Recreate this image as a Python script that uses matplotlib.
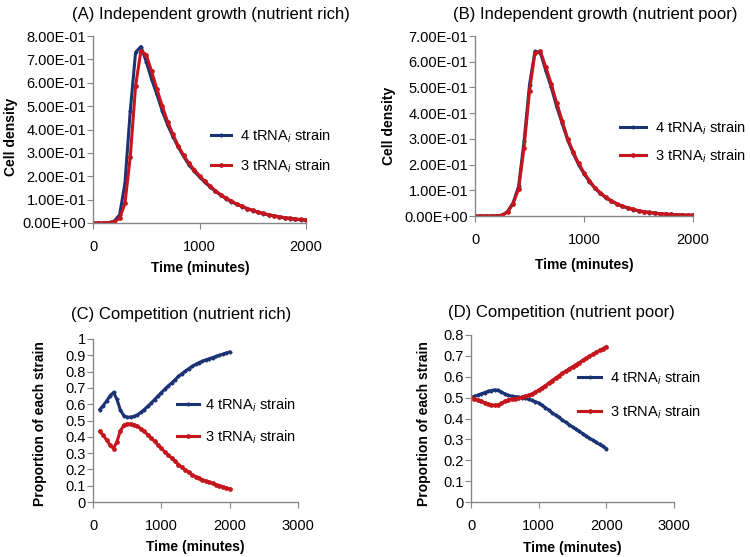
import numpy as np
import matplotlib
matplotlib.use("Agg")
import matplotlib.pyplot as plt
from matplotlib.ticker import FuncFormatter

plt.rcParams['font.family'] = ['Liberation Sans', 'DejaVu Sans']
plt.rcParams['mathtext.fontset'] = 'custom'
plt.rcParams['mathtext.rm'] = 'Liberation Sans'
plt.rcParams['mathtext.it'] = 'Liberation Sans:italic'

BLUE = "#1B3275"
RED = "#C4161C"
GREY = "#868686"

labels = ["4 tRNA$_i$ strain", "3 tRNA$_i$ strain"]

# independent growth, sampled every 50 minutes (0..2000)
t_growth = list(range(0, 2001, 50))

rich_4 = [0, 0, 0, 0.002, 0.008, 0.035, 0.17, 0.48, 0.73, 0.755, 0.69, 0.615,
          0.55, 0.48, 0.42, 0.37, 0.325, 0.285, 0.25, 0.222, 0.197, 0.174,
          0.154, 0.135, 0.119, 0.104, 0.091, 0.08, 0.07, 0.061, 0.053, 0.046,
          0.04, 0.035, 0.03, 0.026, 0.022, 0.019, 0.016, 0.014, 0.012]
rich_3 = [0, 0, 0.0005, 0.001, 0.005, 0.02, 0.084, 0.284, 0.587, 0.737, 0.72,
          0.649, 0.573, 0.50, 0.434, 0.38, 0.33, 0.29, 0.256, 0.228, 0.202,
          0.178, 0.157, 0.138, 0.121, 0.106, 0.093, 0.081, 0.071, 0.062, 0.054,
          0.047, 0.041, 0.035, 0.031, 0.027, 0.023, 0.02, 0.017, 0.015, 0.013]

poor_4 = [0, 0, 0, 0, 0.001, 0.003, 0.018, 0.052, 0.115, 0.29, 0.51, 0.64,
          0.635, 0.565, 0.50, 0.425, 0.36, 0.295, 0.245, 0.2, 0.164, 0.134,
          0.108, 0.088, 0.071, 0.058, 0.047, 0.038, 0.031, 0.025, 0.02, 0.016,
          0.013, 0.011, 0.009, 0.007, 0.006, 0.005, 0.004, 0.003, 0.003]
poor_3 = [0, 0, 0, 0, 0.001, 0.003, 0.016, 0.048, 0.106, 0.266, 0.487, 0.635,
          0.64, 0.578, 0.513, 0.438, 0.37, 0.30, 0.25, 0.205, 0.168, 0.137,
          0.11, 0.09, 0.073, 0.06, 0.048, 0.039, 0.032, 0.026, 0.021, 0.017,
          0.014, 0.011, 0.009, 0.007, 0.006, 0.005, 0.004, 0.003, 0.003]

# competition (nutrient rich), 100..2000
t_comp_rich = list(range(100, 2001, 50))
comp_rich_4 = [0.567, 0.592, 0.62, 0.652, 0.672, 0.63, 0.565, 0.53, 0.52, 0.521,
               0.525, 0.535, 0.55, 0.567, 0.587, 0.607, 0.628, 0.65, 0.671,
               0.692, 0.712, 0.73, 0.75, 0.77, 0.787, 0.803, 0.818, 0.832,
               0.844, 0.855, 0.864, 0.872, 0.879, 0.886, 0.893, 0.90, 0.907,
               0.914, 0.92]
comp_rich_3 = [0.433, 0.408, 0.38, 0.348, 0.328, 0.37, 0.435, 0.47, 0.48, 0.479,
               0.475, 0.465, 0.45, 0.433, 0.413, 0.393, 0.372, 0.35, 0.329,
               0.308, 0.288, 0.27, 0.25, 0.23, 0.213, 0.197, 0.182, 0.168,
               0.156, 0.145, 0.136, 0.128, 0.121, 0.114, 0.107, 0.10, 0.093,
               0.086, 0.08]

# competition (nutrient poor), 0..2000
t_comp_poor = list(range(0, 2001, 50))
comp_poor_4 = [0.50, 0.506, 0.512, 0.518, 0.524, 0.53, 0.534, 0.537, 0.535,
               0.527, 0.518, 0.511, 0.507, 0.505, 0.503, 0.50, 0.497, 0.492,
               0.487, 0.481, 0.474, 0.463, 0.452, 0.44, 0.428, 0.416, 0.405,
               0.393, 0.382, 0.371, 0.36, 0.349, 0.338, 0.328, 0.317, 0.306,
               0.296, 0.286, 0.276, 0.266, 0.256]
comp_poor_3 = [0.50, 0.494, 0.488, 0.482, 0.476, 0.47, 0.466, 0.463, 0.465,
               0.473, 0.482, 0.489, 0.493, 0.495, 0.497, 0.501, 0.506, 0.512,
               0.518, 0.526, 0.536, 0.547, 0.558, 0.57, 0.582, 0.594, 0.605,
               0.617, 0.627, 0.638, 0.648, 0.658, 0.668, 0.678, 0.688, 0.698,
               0.708, 0.717, 0.726, 0.735, 0.744]

fig = plt.figure(figsize=(7.5, 5.57), dpi=100)

def px(x0, y0, x1, y1):
    # pixel box -> figure fraction [left, bottom, width, height]
    W, H = 750.0, 557.0
    return [x0 / W, 1 - y1 / H, (x1 - x0) / W, (y1 - y0) / H]

def style(ax, xmax, ymax, yfmt):
    ax.set_xlim(0, xmax)
    ax.set_ylim(0, ymax)
    for s in ["top", "right"]:
        ax.spines[s].set_visible(False)
    for s in ["left", "bottom"]:
        ax.spines[s].set_color(GREY)
        ax.spines[s].set_linewidth(1.0)
    ax.set_xticks(np.arange(0, xmax + 1, 1000))
    ax.set_yticks(np.round(np.arange(0, ymax + 0.001, 0.1), 2))
    ax.yaxis.set_major_formatter(FuncFormatter(yfmt))
    ax.tick_params(axis="both", direction="out", length=4, color=GREY,
                   labelsize=10.5, colors="black")
    ax.tick_params(axis="x", pad=8)
    ax.tick_params(axis="y", pad=1)

def draw(ax, t, a, b):
    ax.plot(t, a, color=BLUE, lw=2.2, marker="D", ms=1.6, label=labels[0])
    ax.plot(t, b, color=RED, lw=2.2, marker="o", ms=2.4, label=labels[1])

sci = lambda v, p: "%.2E" % v
plain = lambda v, p: "%g" % round(v, 2)

# (A)
axA = fig.add_axes(px(93, 36, 306, 223))
draw(axA, t_growth, rich_4, rich_3)
style(axA, 2000, 0.8, sci)
axA.legend(loc="center left", bbox_to_anchor=(211 / 750, 1 - 151 / 557),
           bbox_transform=fig.transFigure, frameon=False, fontsize=10.5,
           borderpad=0, borderaxespad=0, handlelength=1.4, handletextpad=0.6,
           labelspacing=0.85)

# (B)
axB = fig.add_axes(px(475, 36, 693, 216))
draw(axB, t_growth, poor_4, poor_3)
style(axB, 2000, 0.7, sci)
axB.legend(loc="center left", bbox_to_anchor=(620 / 750, 1 - 142 / 557),
           bbox_transform=fig.transFigure, frameon=False, fontsize=10.5,
           borderpad=0, borderaxespad=0, handlelength=1.8, handletextpad=0.6,
           labelspacing=0.75)

# (C)
axC = fig.add_axes(px(93, 339, 298, 502))
draw(axC, t_comp_rich, comp_rich_4, comp_rich_3)
style(axC, 3000, 1.0, plain)
axC.legend(loc="center left", bbox_to_anchor=(177 / 750, 1 - 421 / 557),
           bbox_transform=fig.transFigure, frameon=False, fontsize=10.5,
           borderpad=0, borderaxespad=0, handlelength=1.5, handletextpad=0.4,
           labelspacing=1.0)

# (D)
axD = fig.add_axes(px(471, 335, 674, 502))
draw(axD, t_comp_poor, comp_poor_4, comp_poor_3)
style(axD, 3000, 0.8, plain)
axD.legend(loc="center left", bbox_to_anchor=(578 / 750, 1 - 395 / 557),
           bbox_transform=fig.transFigure, frameon=False, fontsize=10.5,
           borderpad=0, borderaxespad=0, handlelength=1.6, handletextpad=0.6,
           labelspacing=1.15)

# titles and axis labels
def ftext(x, y, s, **kw):
    fig.text(x / 750, 1 - y / 557, s, ha="center", va="center", **kw)

ftext(211, 15, "(A) Independent growth (nutrient rich)", fontsize=12)
ftext(595, 15, "(B) Independent growth (nutrient poor)", fontsize=12)
ftext(181, 314, "(C) Competition (nutrient rich)", fontsize=12)
ftext(561, 312, "(D) Competition (nutrient poor)", fontsize=12)

ftext(200, 268, "Time (minutes)", fontsize=10, fontweight="bold")
ftext(584, 265, "Time (minutes)", fontsize=10, fontweight="bold")
ftext(195, 547, "Time (minutes)", fontsize=10, fontweight="bold")
ftext(572, 548, "Time (minutes)", fontsize=10, fontweight="bold")

ftext(11, 137, "Cell density", fontsize=10, fontweight="bold", rotation=90)
ftext(389, 126, "Cell density", fontsize=10, fontweight="bold", rotation=90)
ftext(40, 424, "Proportion of each strain", fontsize=10, fontweight="bold", rotation=90)
ftext(424, 424, "Proportion of each strain", fontsize=10, fontweight="bold", rotation=90)

fig.savefig("out.png", dpi=100)
